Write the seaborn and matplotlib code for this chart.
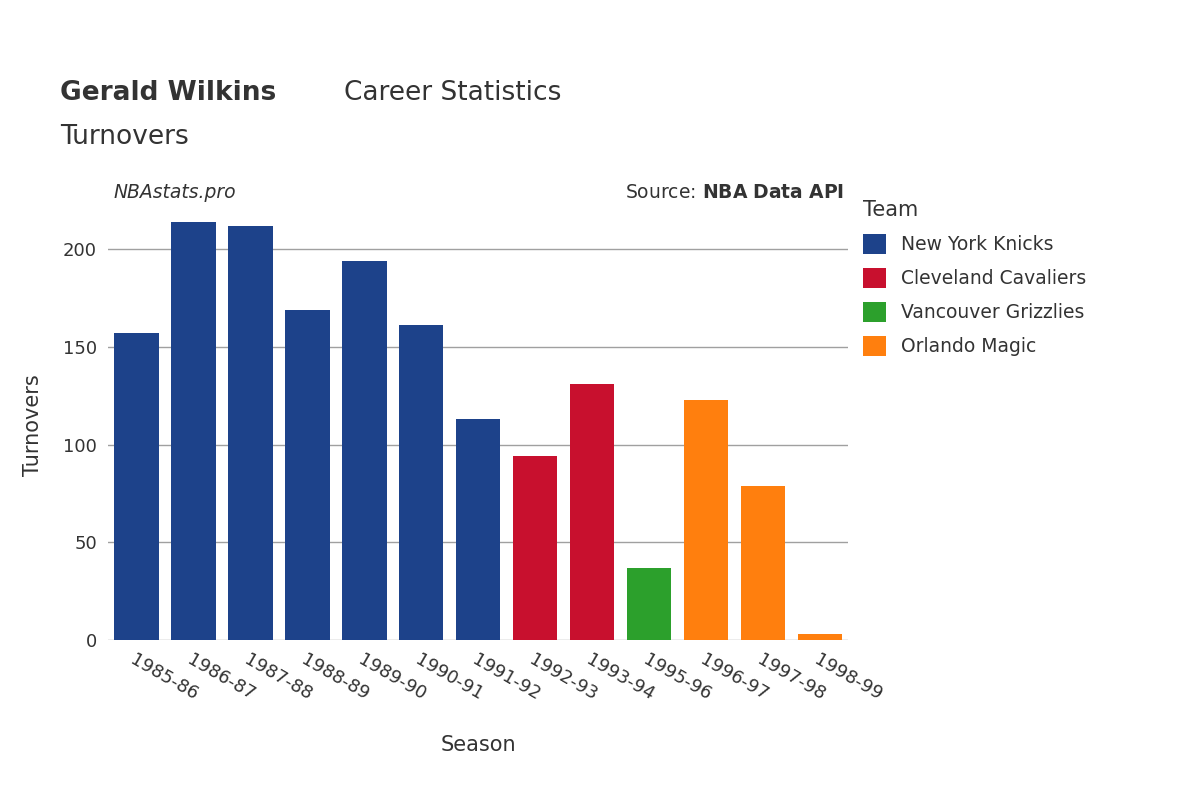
import matplotlib
matplotlib.use("Agg")
import matplotlib.pyplot as plt
import pandas as pd
import seaborn as sns

seasons = ["1985-86", "1986-87", "1987-88", "1988-89", "1989-90", "1990-91", "1991-92",
           "1992-93", "1993-94", "1995-96", "1996-97", "1997-98", "1998-99"]
turnovers = [157, 214, 212, 169, 194, 161, 113, 94, 131, 37, 123, 79, 3]
teams = ["New York Knicks"] * 7 + ["Cleveland Cavaliers"] * 2 + ["Vancouver Grizzlies"] + ["Orlando Magic"] * 3
team_order = ["New York Knicks", "Cleveland Cavaliers", "Vancouver Grizzlies", "Orlando Magic"]
team_colors = ["#1d428a", "#c8102e", "#2ca02c", "#ff7f0e"]

df = pd.DataFrame({"Season": seasons, "Turnovers": turnovers, "Team": teams})

plt.rcParams["font.family"] = "DejaVu Sans"
fig = plt.figure(figsize=(12, 8), dpi=100)
ax = fig.add_axes([0.09, 0.2, 0.617, 0.5375])

sns.barplot(data=df, x="Season", y="Turnovers", hue="Team", hue_order=team_order,
            palette=team_colors, dodge=False, width=0.78, ax=ax, saturation=1)

ax.set_ylim(0, 220)
ax.set_yticks([0, 50, 100, 150, 200])
ax.grid(True, axis="y", color="#a0a0a0", linewidth=1)
ax.set_axisbelow(True)
for s in ax.spines.values():
    s.set_visible(False)
ax.tick_params(length=0, labelsize=13, colors="#333333", pad=8)
plt.setp(ax.get_xticklabels(), rotation=-30, ha="left", rotation_mode="anchor")
ax.set_xlabel("Season", fontsize=15, color="#333333", labelpad=22)
ax.set_ylabel("Turnovers", fontsize=15, color="#333333", labelpad=14)

leg = ax.legend(title="Team", loc="upper left", bbox_to_anchor=(1.01, 1.04), frameon=False,
                fontsize=13.5, title_fontsize=15, handlelength=1.2, handleheight=1.2,
                labelspacing=0.75, borderaxespad=0)
leg._legend_box.align = "left"
for t in leg.get_texts():
    t.set_color("#333333")
leg.get_title().set_color("#333333")

fig.text(0.05, 0.875, "Gerald Wilkins", fontsize=19, fontweight="bold", color="#333333")
fig.text(0.287, 0.875, "Career Statistics", fontsize=19, color="#333333")
fig.text(0.05, 0.82, "Turnovers", fontsize=19, color="#333333")
fig.text(0.095, 0.752, "NBAstats.pro", fontsize=13.5, style="italic", color="#333333")
fig.text(0.703, 0.752, "Source: $\\bf{NBA\\ Data\\ API}$", fontsize=13.5, color="#333333", ha="right")

fig.savefig("out.png", dpi=100)
